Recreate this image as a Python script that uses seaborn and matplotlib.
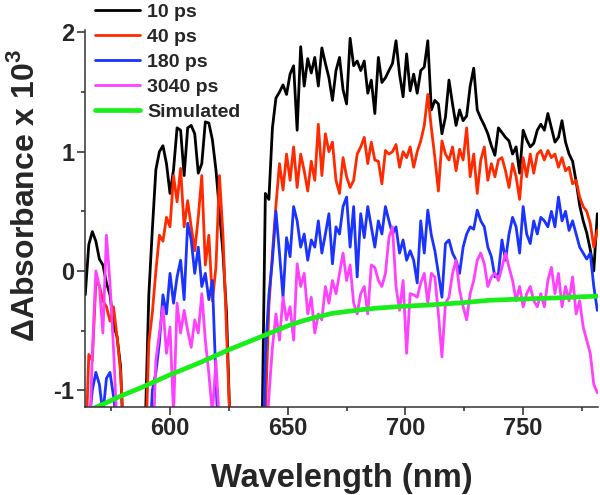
import numpy as np
import pandas as pd
import matplotlib
matplotlib.use("Agg")
import matplotlib.pyplot as plt
import seaborn as sns
from matplotlib.ticker import MultipleLocator

# wavelength grid of the measured spectra (nm)
wavelength = np.arange(564.0, 782.0, 1.5)

# dA x 10^3 (values below -1.15 are off-scale)
ps10 = [
    -0.2, 0.22, 0.33, 0.25, 0.1, 0.05, -0.1, -0.2, -0.45, -0.55,
    -0.8, -1.6, -2.0, -2.0, -2.0, -2.0, -2.0, -1.3, -0.2, 0.35,
    0.85, 1.0, 1.05, 0.9, 0.65, 0.85, 1.2, 1.18, 0.8, 1.2,
    1.22, 1.15, 0.82, 0.9, 1.25, 1.24, 1.1, 0.85, 0.5, 0.15,
    -0.35, -1.3, -2.0, -2.0, -2.0, -2.0, -2.0, -2.0, -2.0, -2.0,
    -1.5, 0.65, 0.6, 1.2, 1.45, 1.5, 1.56, 1.48, 1.65, 1.72,
    1.18, 1.88, 1.55, 1.78, 1.66, 1.79, 1.55, 1.87, 1.74, 1.62,
    1.43, 1.68, 1.79, 1.52, 1.4, 1.95, 1.72, 1.76, 1.68, 1.76,
    1.49, 1.6, 1.32, 1.79, 1.58, 1.62, 1.68, 1.74, 1.93, 1.65,
    1.46, 1.82, 1.51, 1.65, 1.49, 1.68, 1.71, 1.93, 1.35, 1.43,
    1.4, 1.15, 1.29, 1.6, 1.4, 1.22, 1.35, 1.26, 1.3, 1.55,
    1.7, 1.35, 1.28, 1.22, 1.15, 1.05, 0.97, 1.2, 1.16, 1.12,
    1.09, 0.98, 1.04, 0.82, 1.18, 1.1, 1.04, 1.07, 1.18, 1.23,
    1.18, 1.32, 1.2, 1.08, 1.12, 1.26, 1.08, 0.98, 0.92, 0.75,
    0.55, 0.42, 0.32, 0.18, 0.0, 0.48,
]
ps40 = [
    -1.6, -0.7, -0.75, -0.1, -0.12, -0.25, -0.3, -0.42, -0.3, -0.55,
    -0.85, -1.4, -2.0, -2.0, -2.0, -2.0, -2.0, -1.6, -0.6, -0.35,
    0.0, 0.3, 0.25, 0.45, 0.37, 0.8, 0.58, 0.86, 0.37, 0.59,
    0.37, 0.17, 0.45, 0.8, 0.05, 0.3, -0.25, 0.03, 0.8, 0.3,
    -0.5, -1.3, -2.0, -2.0, -2.0, -2.0, -2.0, -2.0, -2.0, -2.0,
    -2.0, -1.2, -0.3, 0.15, 0.55, 0.9, 0.68, 0.98, 0.76, 1.04,
    0.7, 0.98, 0.84, 0.67, 0.92, 0.76, 1.23, 0.8, 1.15, 1.0,
    1.08, 0.76, 0.65, 0.95, 0.79, 0.7, 0.76, 0.98, 1.04, 1.12,
    0.9, 1.08, 0.93, 0.92, 0.73, 1.01, 0.98, 1.0, 1.06, 0.87,
    1.0, 0.95, 1.04, 0.87, 1.0, 1.09, 1.22, 1.48, 1.2, 0.95,
    0.67, 1.09, 0.98, 0.93, 1.04, 0.84, 1.02, 0.93, 1.2, 0.79,
    0.98, 0.65, 0.93, 1.04, 0.76, 0.9, 0.79, 0.93, 0.95, 0.84,
    0.7, 0.9, 0.79, 0.6, 0.95, 0.79, 0.98, 0.82, 0.98, 1.01,
    0.93, 1.01, 0.95, 0.98, 0.87, 0.95, 0.84, 0.87, 0.73, 0.76,
    0.62, 0.54, 0.5, 0.4, 0.2, 0.34,
]
ps180 = [
    -1.6, -1.3, -1.0, -0.85, -0.95, -1.2, -0.9, -0.85, -1.05, -1.3,
    -1.6, -2.0, -2.0, -2.0, -2.0, -2.0, -2.0, -2.0, -1.6, -1.0,
    -0.85, -0.6, -0.2, -0.36, -0.02, -0.27, -0.05, 0.09, -0.24, 0.4,
    0.26, -0.02, 0.2, -0.13, -0.02, -0.24, -0.08, -0.9, -1.6, -2.0,
    -2.0, -2.0, -2.0, -2.0, -2.0, -2.0, -2.0, -2.0, -2.0, -2.0,
    -2.0, -0.7, -0.2, 0.09, 0.5, 0.15, -0.22, 0.28, 0.12, 0.54,
    0.42, 0.2, 0.31, 0.09, 0.26, 0.2, 0.42, 0.15, 0.31, 0.48,
    0.06, 0.37, 0.31, 0.54, 0.62, 0.2, 0.54, -0.05, 0.48, 0.28,
    0.54, 0.37, 0.2, 0.42, 0.31, 0.54, 0.42, 0.31, 0.37, 0.15,
    0.26, 0.09, 0.17, 0.09, -0.1, 0.42, 0.15, 0.51, 0.3, 0.17,
    -0.02, -0.22, 0.23, 0.26, 0.15, 0.09, -0.02, 0.2, 0.31, 0.37,
    0.35, 0.51, 0.42, 0.37, 0.2, 0.12, -0.05, -0.02, 0.26, 0.09,
    0.31, 0.45, 0.37, 0.15, 0.54, 0.31, 0.23, 0.42, 0.31, 0.45,
    0.42, 0.37, 0.5, 0.37, 0.62, 0.42, 0.5, 0.34, 0.42, 0.31,
    0.2, 0.15, 0.1, 0.15, -0.13, -0.33,
]
ps3040 = [
    -2.0, -1.6, -0.7, 0.0, -0.13, -0.52, 0.3, -0.1, -0.65, -1.3,
    -2.0, -2.0, -2.0, -2.0, -2.0, -2.0, -2.0, -2.0, -2.0, -1.6,
    -0.75, -0.52, -0.3, -0.69, -0.47, -1.2, -0.27, -0.52, -0.33, -0.5,
    -0.64, -0.41, -0.52, -0.19, -0.58, -0.86, -1.2, -0.75, -1.3, -2.0,
    -2.0, -2.0, -2.0, -2.0, -2.0, -2.0, -2.0, -2.0, -2.0, -2.0,
    -2.0, -1.6, -1.05, -0.64, -0.36, -0.58, -0.22, -0.41, -0.3, -0.58,
    0.06, -0.13, -0.02, -0.36, -0.22, -0.52, -0.36, -0.41, -0.13, -0.27,
    -0.08, -0.19, -0.02, 0.15, -0.08, 0.05, -0.27, -0.36, -0.19, -0.13,
    -0.36, 0.05, 0.03, -0.08, -0.13, -0.02, 0.28, 0.37, -0.13, -0.33,
    -0.08, -0.69, -0.19, -0.2, -0.22, -0.1, -0.02, -0.27, -0.02, -0.05,
    -0.36, -0.72, -0.27, -0.22, -0.02, 0.09, -0.16, -0.3, -0.41, -0.19,
    -0.08, 0.09, 0.15, 0.06, -0.13, -0.05, -0.02, -0.08, 0.03, 0.15,
    0.03, -0.08, -0.25, -0.13, -0.3, -0.19, -0.13, -0.25, -0.3, -0.19,
    -0.3, -0.08, 0.03, -0.19, -0.02, -0.3, -0.13, -0.25, -0.05, -0.36,
    -0.25, -0.47, -0.58, -0.69, -0.95, -1.02,
]

# simulated spectrum
sim_wavelength = [564, 570, 575, 580, 587.5, 600, 612.5, 625, 637.5, 650,
                  656, 662.5, 669, 675, 681, 687.5, 700, 710, 725, 736,
                  750, 765, 782]
sim_values = [-1.18, -1.13, -1.085, -1.04, -0.98, -0.87, -0.77, -0.66, -0.56, -0.46,
              -0.42, -0.385, -0.355, -0.34, -0.325, -0.312, -0.295, -0.285, -0.265, -0.245,
              -0.235, -0.225, -0.21]

labels = ["10 ps", "40 ps", "180 ps", "3040 ps"]
colors = ["#000000", "#ff2a00", "#1a33ff", "#ff40ff"]

spectra = pd.concat(
    [pd.DataFrame({"Wavelength": wavelength, "dA": vals, "Delay": lab})
     for lab, vals in zip(labels, [ps10, ps40, ps180, ps3040])],
    ignore_index=True,
)

sns.set_style("ticks")
plt.rcParams["font.family"] = ["Liberation Sans", "DejaVu Sans"]
plt.rcParams["font.weight"] = "bold"
plt.rcParams["axes.unicode_minus"] = False
plt.rcParams["mathtext.fontset"] = "custom"
plt.rcParams["mathtext.bf"] = "Liberation Sans:bold"

fig = plt.figure(figsize=(6, 4.95), dpi=100)
ax = fig.add_axes([0.1417, 0.1778, 0.855, 0.7616])

for lab, col in zip(labels, colors):
    sns.lineplot(data=spectra[spectra["Delay"] == lab], x="Wavelength", y="dA",
                 color=col, lw=2.0, label=lab, sort=False, ax=ax)
sns.lineplot(x=sim_wavelength, y=sim_values, color="#1aee1a", lw=3.4,
             label="Simulated", sort=False, ax=ax)

ax.set_xlim(563.9, 781.8)
ax.set_ylim(-1.14, 2.02)
ax.xaxis.set_major_locator(MultipleLocator(50))
ax.xaxis.set_minor_locator(MultipleLocator(25))
ax.yaxis.set_major_locator(MultipleLocator(1))
ax.yaxis.set_minor_locator(MultipleLocator(0.5))
ax.tick_params(which="major", length=5.5, width=1.1, labelsize=17, pad=2)
ax.tick_params(which="minor", length=3, width=1.1)
for lab in ax.get_xticklabels() + ax.get_yticklabels():
    lab.set_fontweight("bold")

sns.despine(ax=ax)
for s in ["left", "bottom"]:
    ax.spines[s].set_linewidth(1.1)
    ax.spines[s].set_color("#333333")

ax.set_xlabel("Wavelength (nm)", fontsize=23.5, fontweight="bold", labelpad=16)
ax.set_ylabel(r"ΔAbsorbance x 10$^{\mathbf{3}}$", fontsize=23, fontweight="bold")
ax.yaxis.set_label_coords(-0.086, 0.56)

ax.legend(loc="upper left", bbox_to_anchor=(0.158, 0.994), bbox_transform=fig.transFigure,
          frameon=False, handlelength=2.35, handletextpad=0.35,
          labelspacing=0.38, borderpad=0, borderaxespad=0,
          prop={"weight": "bold", "size": 14})

fig.savefig("out.png", dpi=100)
